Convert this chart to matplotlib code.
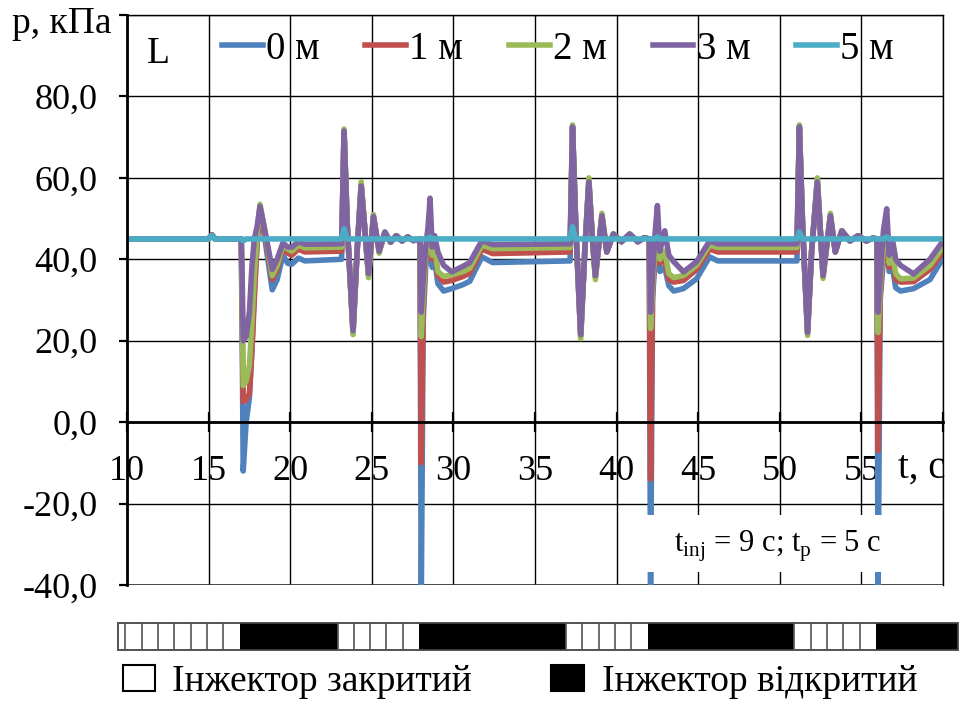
import matplotlib
matplotlib.use("Agg")
import matplotlib.pyplot as plt
from matplotlib.patches import Rectangle
from matplotlib.lines import Line2D
from matplotlib.ticker import FuncFormatter, FixedLocator

plt.rcParams["font.family"] = ["Liberation Serif", "DejaVu Serif"]
plt.rcParams["mathtext.fontset"] = "custom"
plt.rcParams["mathtext.rm"] = "Liberation Serif"
plt.rcParams["axes.unicode_minus"] = False

# ---- pressure records, kPa, at distance L from the injector ----
t = [10.0, 15.0, 15.2, 15.4, 17.0,
     17.06, 17.12, 17.30, 17.50, 17.65, 17.80, 17.97, 18.15, 18.45, 18.90,
     19.20, 19.55, 19.85, 20.10, 20.50, 20.90, 23.15,
     23.30, 23.50, 23.85, 24.10, 24.35, 24.60, 24.80, 25.10, 25.45, 25.80,
     26.15, 26.50, 26.85, 27.20, 27.55, 27.95,
     28.03, 28.15, 28.30, 28.45, 28.57, 28.70, 28.85, 29.05, 29.40, 29.90,
     30.60, 31.00, 31.75, 32.40, 37.15,
     37.30, 37.50, 37.80, 38.05, 38.30, 38.50, 38.70, 39.10, 39.40, 39.80,
     40.30, 40.80, 41.30, 41.70, 42.00,
     42.08, 42.20, 42.35, 42.50, 42.65, 42.95, 43.20, 43.50, 44.10, 44.90,
     45.70, 46.20, 51.05,
     51.20, 51.40, 51.70, 51.95, 52.30, 52.50, 52.65, 53.10, 53.40, 53.80,
     54.30, 54.80, 55.30, 55.70, 55.95,
     56.02, 56.15, 56.35, 56.55, 56.70, 56.90, 57.10, 57.40, 58.20, 59.20, 60.00]

p_0m = [45, 45, 46, 45, 45,
        20, -12, 0, 6, 18, 32, 44, 52, 45, 32.5,
        35, 41, 39, 38.8, 40.3, 39.6, 40,
        71, 48, 22, 42, 58, 46, 36, 50, 42, 46.5,
        44.2, 45.8, 44.5, 45.5, 44.6, 45,
        -45, 25, 38, 42, 45, 38, 40, 34, 32.2, 32.8,
        33.8, 34.6, 40.6, 39.2, 39.6,
        72, 48, 21.2, 42, 59, 46, 35.7, 50.5, 41.8, 46.2,
        44.3, 46.2, 44.3, 45.3, 45,
        -45, 30, 40, 45, 37, 38, 33.5, 32.2, 32.8, 35.2,
        40.6, 39.6, 39.6,
        72.3, 48, 22, 42, 59, 46, 36, 50.5, 41.8, 47,
        44.5, 45.8, 44.5, 45.2, 45,
        -45, 30, 40, 44, 37, 38, 33, 32.2, 32.8, 35, 40.3]

p_1m = [45, 45, 46, 45, 45,
        25, 5, 5.5, 7, 17, 30, 44, 53, 46, 35,
        37.5, 43, 41.5, 41, 42.5, 41.8, 42,
        71.5, 48, 22, 42, 58.5, 46, 36, 50.5, 42, 46.5,
        44.2, 45.8, 44.5, 45.5, 44.6, 45,
        -10, 28, 40, 44, 48, 40, 42, 36, 34.4, 34.8,
        35.8, 36.6, 42.5, 41.4, 41.8,
        72.5, 48, 21.2, 42, 59.3, 46, 35.7, 50.7, 41.8, 46.2,
        44.3, 46.2, 44.3, 45.3, 45,
        -14, 31, 42, 48, 39, 40, 35, 34.4, 34.8, 37.5,
        42.5, 41.8, 41.8,
        72.5, 48, 22, 42, 59.3, 46, 36, 50.7, 41.8, 47,
        44.5, 45.8, 44.5, 45.2, 45,
        -7, 31, 42, 46, 38, 40, 35, 34.4, 34.5, 37.5, 41.8]

p_2m = [45, 45, 46, 45, 45,
        30, 9, 10, 14, 24, 36, 46, 53.5, 47, 36,
        38.5, 43.5, 42.5, 42, 43.5, 42.8, 43,
        72, 48, 21.5, 42, 59, 46, 35.5, 51, 41.5, 46.7,
        44.2, 45.8, 44.5, 45.5, 44.6, 45,
        21, 31, 41, 45, 50, 41, 43, 37, 35.8, 36.2,
        37, 37.8, 43.5, 42.6, 42.9,
        73, 48, 20.5, 42, 60, 46, 35, 51.3, 41.8, 46.2,
        44.3, 46.2, 44.3, 45.3, 45,
        23, 33, 43, 50, 40, 42, 36.5, 35.5, 36, 38.5,
        43.5, 42.9, 42.9,
        73, 48, 21.3, 42, 60, 46, 35.3, 51.3, 41.8, 47,
        44.5, 45.8, 44.5, 45.2, 45,
        22, 33, 44, 48, 39, 41.5, 36.5, 35.2, 35.4, 38.5, 43]

p_3m = [45, 45, 46, 45, 45,
        35, 20, 21, 27, 38, 45, 48, 53, 47, 37.5,
        40, 44, 43, 43, 44.3, 43.7, 43.8,
        71.5, 48, 22.5, 42, 58, 46, 36.5, 50.5, 42, 46.7,
        44.2, 45.8, 44.5, 45.5, 44.6, 45,
        27, 35, 43, 48, 55, 43, 45.8, 41.8, 38.5, 36.9,
        38.3, 39.2, 44.6, 43.6, 43.8,
        72.5, 48, 21.5, 42, 59, 46, 36, 50.7, 41.8, 46.2,
        44.3, 46.2, 44.3, 45.3, 45,
        27, 36, 46, 53.2, 42, 47, 41, 39.4, 36.9, 39.4,
        44.5, 43.8, 43.8,
        72.5, 48, 22, 42, 59, 46, 36, 50.7, 41.8, 47,
        44.5, 45.8, 44.5, 45.2, 45,
        27, 36, 47, 52.4, 41, 45, 40, 38.5, 36.4, 40, 44.5]

p_5m = [45, 45, 45.8, 45, 45,
        45, 44.5, 45, 45, 45, 45, 45, 45, 45, 45,
        45, 45, 45, 45, 45, 45, 45,
        47.5, 45, 45, 45, 45, 45, 45, 45, 45, 45,
        45, 45, 45, 45, 45, 45,
        45, 45, 45, 45, 45.5, 45, 45, 45, 45, 45,
        45, 45, 45, 45, 45,
        48, 45, 45, 45, 45, 45, 45, 45, 45, 45,
        45, 45, 45, 45, 45,
        45, 45, 45, 45.5, 45, 45, 45, 45, 45, 45,
        45, 45, 45,
        46.7, 45, 45, 45, 45, 45, 45, 45, 45, 45,
        45, 45, 45, 45, 45,
        45, 45, 45, 45.5, 45, 45, 45, 45, 45, 45, 45]

series_labels = ["0 м", "1 м", "2 м", "3 м", "5 м"]
series_colors = ["#4F81BD", "#C0504D", "#9BBB59", "#8064A2", "#4BACC6"]

# injector state: switching moments (s) and state of each interval (1 = open)
switch_t = [9.45, 16.9, 22.9, 27.9, 36.9, 41.9, 50.9, 55.9, 60.9]
state = [0, 1, 0, 1, 0, 1, 0, 1]

x_ticks = [10, 15, 20, 25, 30, 35, 40, 45, 50, 55, 60]
y_ticks = [-40, -20, 0, 20, 40, 60, 80, 100]

W, H = 961, 704
fig = plt.figure(figsize=(W / 100, H / 100), dpi=100)

# full-figure overlay in pixel units for the decorations outside the axes
ov = fig.add_axes([0, 0, 1, 1], zorder=0)
ov.set_xlim(0, W)
ov.set_ylim(H, 0)
ov.axis("off")

ax = fig.add_axes([127 / W, 1 - 585 / H, 816 / W, 570 / H], zorder=1)
ax.patch.set_alpha(0)
ax.set_xlim(10, 60)
ax.set_ylim(-40, 100)
ax.set_axisbelow(True)

for vals, col, lab in zip([p_0m, p_1m, p_2m, p_3m, p_5m], series_colors, series_labels):
    ax.plot(t, vals, color=col, lw=4.0, solid_joinstyle="round", zorder=2, label=lab)

ax.xaxis.set_major_locator(FixedLocator(x_ticks))
ax.yaxis.set_major_locator(FixedLocator(y_ticks))
ax.xaxis.set_major_formatter(FuncFormatter(lambda v, pos: "" if v >= 60 else f"{v:.0f}"))
ax.yaxis.set_major_formatter(FuncFormatter(lambda v, pos: "" if v >= 100 else f"{v:.1f}".replace(".", ",")))

ax.grid(True, color="black", lw=1.0)
ax.spines["bottom"].set_position(("data", 0))
ax.spines["bottom"].set_linewidth(2.0)
ax.spines["left"].set_linewidth(2.0)
ax.spines["top"].set_linewidth(1.0)
ax.spines["right"].set_linewidth(1.0)
ax.axhline(-40, color="#333333", lw=1.2, zorder=1.5)

ax.tick_params(axis="x", direction="inout", length=15, width=1.6, pad=16, labelsize=26)
ax.tick_params(axis="y", direction="out", length=6, width=1.6, pad=15, labelsize=26)

ax.text(60.15, -11.3, "t, с", ha="right", va="center", fontsize=28)

# note box (white fill only)
ax.add_patch(Rectangle((40.3, -36.8), 19.5, 14.1, facecolor="white", edgecolor="none", zorder=3))
ax.text(49.9, -30.5, r"t$_{\mathrm{inj}}$ = 9 с; t$_{\mathrm{p}}$ = 5 с", ha="center", va="center",
        fontsize=22, zorder=4)

handles = [Line2D([], [], color=c, lw=4.0) for c in series_colors]
ax.legend(handles, series_labels, ncol=5, loc="upper left", bbox_to_anchor=(0.1164, 0.972),
          frameon=False, fontsize=28, handlelength=1.05, handletextpad=0.08,
          columnspacing=1.18, borderpad=0, borderaxespad=0)

# injector state strip
axb = fig.add_axes([127 / W, 1 - 650 / H, 816 / W, 27 / H], zorder=1)
axb.set_xlim(10, 60)
axb.set_ylim(0, 1)
axb.axis("off")
for a, b, s in zip(switch_t[:-1], switch_t[1:], state):
    axb.add_patch(Rectangle((a, 0), b - a, 1, facecolor="black" if s else "white",
                            edgecolor="none", clip_on=False))
    if not s:
        k = b - 1.0
        while k > a + 0.05:
            axb.plot([k, k], [0, 1], color="#555555", lw=1.2, clip_on=False)
            k -= 1.0
        axb.plot([a, a], [0, 1], color="#555555", lw=1.2, clip_on=False)
axb.add_patch(Rectangle((switch_t[0], 0), switch_t[-1] - switch_t[0], 1, facecolor="none",
                        edgecolor="#444444", lw=1.3, clip_on=False))

# axis titles, series marker and injector legend
ov.text(12, 33, "p, кПа", fontsize=27, va="baseline", ha="left")
ov.text(147, 63, "L", fontsize=27, va="baseline", ha="left")
ov.add_patch(Rectangle((123, 665), 32, 26, facecolor="white", edgecolor="black", lw=1.5))
ov.text(172, 691, "Інжектор закритий", fontsize=27, va="baseline", ha="left")
ov.add_patch(Rectangle((551, 665), 33, 26, facecolor="black", edgecolor="black", lw=1.5))
ov.text(602, 691, "Інжектор відкритий", fontsize=27, va="baseline", ha="left")

fig.savefig("out.png", dpi=100)
